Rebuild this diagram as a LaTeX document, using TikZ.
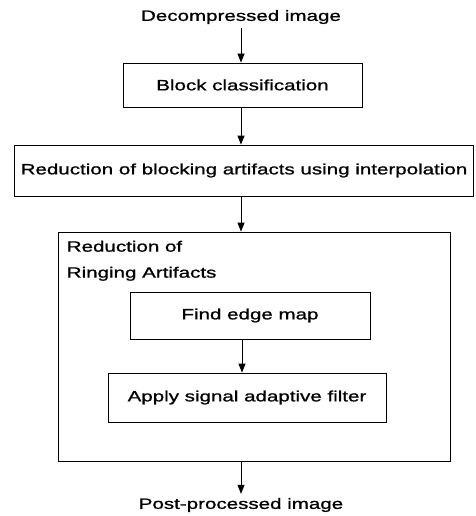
\documentclass[tikz,border=0pt]{standalone}
\usepackage{fontspec}
\setmainfont[FakeStretch=1.37,FakeBold=1]{Liberation Sans}
\usetikzlibrary{arrows.meta}
\tikzset{
	stage/.style={draw=black,thick,inner sep=0pt,font=\fontsize{15}{17}\selectfont},
	group/.style={draw=black,thick,inner sep=0pt},
	labl/.style={inner sep=0pt,font=\fontsize{15}{17}\selectfont},
	flow/.style={thick,-{Triangle[length=9pt,width=7pt]}},
	}
\begin{document}
\begin{tikzpicture}[x=1pt,y=-1pt]
\useasboundingbox (0,0) rectangle (475,516);

\node[labl] (dec) at (241,17) {Decompressed image};
\node[stage,minimum width=239pt,minimum height=44pt] (blk) at (242.5,85) {Block classification};
\node[stage,minimum width=459pt,minimum height=51pt] (blkart) at (244,170.5) {Reduction of blocking artifacts using interpolation};
\node[group,minimum width=392pt,minimum height=229pt] (ring) at (254,346.5) {};
\node[labl,anchor=north west,align=left,font=\fontsize{15}{26}\selectfont] (ringlbl) at ([xshift=9pt,yshift=-9pt]ring.north west) {Reduction of\\Ringing Artifacts};
\node[stage,minimum width=240pt,minimum height=47pt] (edge) at (250,315.5) {Find edge map};
\node[stage,minimum width=278pt,minimum height=49pt] (filt) at (247,397.5) {Apply signal adaptive filter};
\node[labl] (post) at (241,505) {Post-processed image};

\draw[flow] ([yshift=-4pt]dec.south) -- (dec.south |- blk.north);
\draw[flow] (dec.south |- blk.south) -- (dec.south |- blkart.north);
\draw[flow] (dec.south |- blkart.south) -- (dec.south |- ring.north);
\draw[flow] ([xshift=-8pt]edge.south) -- ([xshift=-8pt]edge.south |- filt.north);
\draw[flow] (dec.south |- ring.south) -- ([yshift=4pt]post.north);
\end{tikzpicture}
\end{document}
